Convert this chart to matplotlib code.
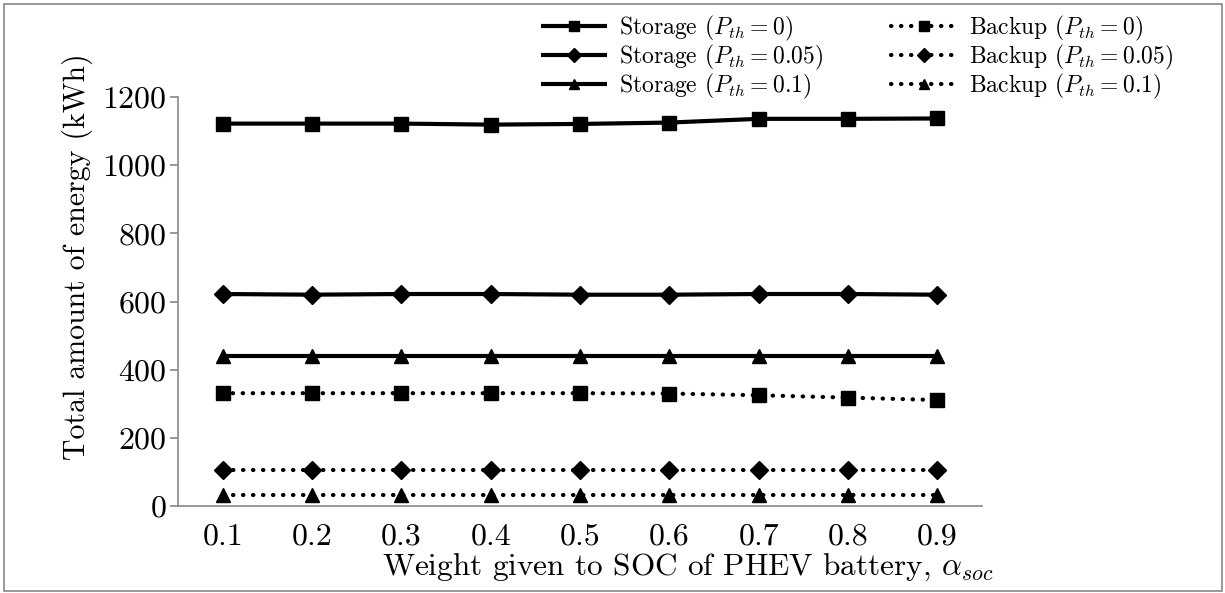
import matplotlib
matplotlib.use("Agg")
import matplotlib.pyplot as plt
from matplotlib.patches import Rectangle

plt.rcParams['font.family'] = ['cmr10', 'DejaVu Serif']
plt.rcParams['mathtext.fontset'] = 'cm'
plt.rcParams['axes.unicode_minus'] = False
plt.rcParams['axes.formatter.use_mathtext'] = True

alpha_soc = [0.1, 0.2, 0.3, 0.4, 0.5, 0.6, 0.7, 0.8, 0.9]
x_ticklabels = ["0.1", "0.2", "0.3", "0.4", "0.5", "0.6", "0.7", "0.8", "0.9"]
y_ticks = [0, 200, 400, 600, 800, 1000, 1200]

storage_p0 = [1122, 1122, 1122, 1119, 1121, 1125, 1136, 1136, 1137]
storage_p005 = [622, 620, 622, 622, 620, 620, 622, 622, 620]
storage_p01 = [440, 440, 440, 440, 440, 440, 440, 440, 440]
backup_p0 = [331, 331, 331, 331, 331, 330, 325, 318, 311]
backup_p005 = [106, 106, 106, 106, 106, 106, 106, 106, 106]
backup_p01 = [32, 32, 32, 32, 32, 32, 32, 32, 32]

fig = plt.figure(figsize=(12.25, 5.93), dpi=100)
ax = fig.add_axes([0.1453, 0.1467, 0.8016 - 0.1453, 0.8364 - 0.1467])

solid_kw = dict(color='black', linewidth=3.0, solid_capstyle='butt')
dot_kw = dict(color='black', linewidth=3.0, linestyle=(0, (0.1, 2.3)),
              dash_capstyle='round')

ax.plot(alpha_soc, storage_p0, marker='s', markersize=10, label=r'Storage ($P_{th}=0$)', **solid_kw)
ax.plot(alpha_soc, storage_p005, marker='D', markersize=9, label=r'Storage ($P_{th}=0.05$)', **solid_kw)
ax.plot(alpha_soc, storage_p01, marker='^', markersize=10, label=r'Storage ($P_{th}=0.1$)', **solid_kw)
ax.plot(alpha_soc, backup_p0, marker='s', markersize=10, label=r'Backup ($P_{th}=0$)', **dot_kw)
ax.plot(alpha_soc, backup_p005, marker='D', markersize=9, label=r'Backup ($P_{th}=0.05$)', **dot_kw)
ax.plot(alpha_soc, backup_p01, marker='^', markersize=10, label=r'Backup ($P_{th}=0.1$)', **dot_kw)

ax.set_xlim(0.05, 0.95)
ax.set_ylim(0, 1200)
ax.set_xticks(alpha_soc)
ax.set_xticklabels(x_ticklabels)
ax.set_yticks(y_ticks)

for s in ['top', 'right']:
    ax.spines[s].set_visible(False)
for s in ['left', 'bottom']:
    ax.spines[s].set_color('#888888')
    ax.spines[s].set_linewidth(1.2)

ax.tick_params(axis='y', direction='out', length=6, width=1.2, color='#888888',
               labelsize=23, pad=2)
ax.tick_params(axis='x', length=0, labelsize=23, pad=12)

ax.set_ylabel('Total amount of energy (kWh)', fontsize=21.5)
ax.yaxis.set_label_coords(-0.106, 0.609)
ax.set_xlabel(r'Weight given to SOC of PHEV battery, $\alpha_{soc}$', fontsize=22.5)
ax.xaxis.set_label_coords(0.634, -0.1125)

leg = ax.legend(ncol=2, loc='upper left', bbox_to_anchor=(541 / 1225, 1 - 14 / 593),
                bbox_transform=fig.transFigure, frameon=False, fontsize=17,
                handlelength=2.8, columnspacing=2.9, handletextpad=0.5,
                labelspacing=0.0, borderaxespad=0, borderpad=0, markerscale=0.75)

fig.patches.append(Rectangle((4 / 1225, 2 / 593), 1218 / 1225, 587 / 593,
                             transform=fig.transFigure, fill=False,
                             edgecolor='#888888', linewidth=1.2))

fig.savefig('out.png', dpi=100)
